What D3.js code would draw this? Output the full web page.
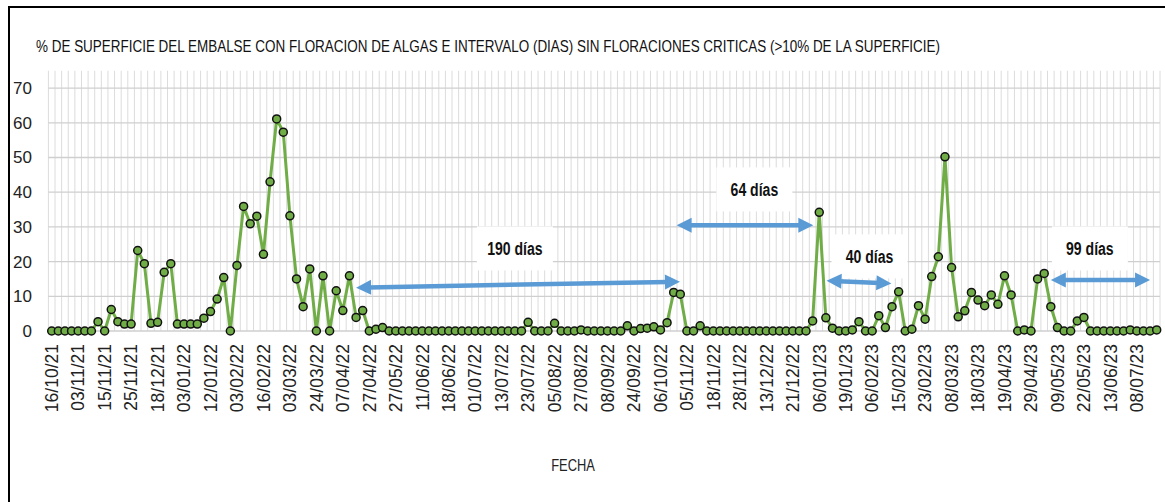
<!DOCTYPE html>
<html>
<head>
<meta charset="utf-8">
<script src="https://cdn.jsdelivr.net/npm/d3@7"></script>
<style>
  body { margin: 0; background: #fff; }
  svg { display: block; }
</style>
</head>
<body>
<div id="chart"></div>
<script>
// % de superficie con floracion, one value per sampling date (category)
var values = [
  0, 0, 0, 0, 0, 0, 0, 2.7, 0, 6.2,
  2.7, 2, 2, 23.2, 19.4, 2.2, 2.5, 16.9, 19.4, 2,
  2, 2, 2, 3.7, 5.6, 9.2, 15.4, 0, 18.9, 35.9,
  30.9, 33.1, 22.1, 43, 61.1, 57.3, 33.2, 15, 7, 17.9,
  0, 15.9, 0, 11.6, 5.9, 15.9, 3.9, 5.9, 0, 0.5,
  1, 0, 0, 0, 0, 0, 0, 0, 0, 0,
  0, 0, 0, 0, 0, 0, 0, 0, 0, 0,
  0, 0, 2.5, 0, 0, 0, 2.2, 0, 0, 0,
  0.3, 0, 0, 0, 0, 0, 0, 1.5, 0, 0.7,
  0.8, 1.2, 0.3, 2.4, 11.1, 10.6, 0, 0, 1.5, 0,
  0, 0, 0, 0, 0, 0, 0, 0, 0, 0,
  0, 0, 0, 0, 0, 2.9, 34.2, 3.8, 0.8, 0,
  0, 0.3, 2.7, 0, 0, 4.4, 1, 7, 11.3, 0,
  0.5, 7.3, 3.4, 15.7, 21.4, 50.2, 18.3, 4.1, 5.8, 11.1,
  8.9, 7.3, 10.4, 7.7, 15.9, 10.4, 0, 0.3, 0, 15,
  16.6, 7, 1, 0, 0, 2.9, 3.9, 0, 0, 0,
  0, 0, 0, 0.3, 0, 0, 0, 0.3
];

// one date label every 4 categories
var tickLabels = [
  "16/10/21", "03/11/21", "15/11/21", "25/11/21", "18/12/21", "03/01/22", "12/01/22",
  "03/02/22", "16/02/22", "03/03/22", "24/03/22", "07/04/22", "27/04/22", "27/05/22",
  "11/06/22", "18/06/22", "01/07/22", "13/07/22", "23/07/22", "05/08/22", "27/08/22",
  "08/09/22", "24/09/22", "06/10/22", "05/11/22", "18/11/22", "28/11/22", "13/12/22",
  "21/12/22", "06/01/23", "19/01/23", "06/02/23", "15/02/23", "23/02/23", "08/03/23",
  "18/03/23", "19/04/23", "29/04/23", "09/05/23", "22/05/23", "13/06/23", "08/07/23"
];
var tickEvery = 4;

var yTicks = [0, 10, 20, 30, 40, 50, 60, 70];

// interval annotations, in data units (category index, %)
var arrowLabels = ["190 días", "64 días", "40 días", "99 días"];
var arrowFrom = [[46.0, 12.5], [94.45, 30.5], [117.1, 14.5], [151.0, 14.7]];
var arrowTo = [[94.95, 14.2], [115.1, 30.5], [126.9, 13.7], [166.0, 14.7]];
var labelAt = [[70.0, 23.8], [106.2, 40.8], [123.6, 21.5], [156.9, 23.8]];

var width = 1165, height = 502;
var sans = "'Liberation Sans', Arial, sans-serif";

var svg = d3.select("#chart").append("svg")
    .attr("width", width)
    .attr("height", height);

// squeeze a text horizontally to imitate a condensed face
function condense(sel, k) {
  sel.each(function() {
    var w = this.getComputedTextLength();
    d3.select(this)
      .attr("textLength", w * k)
      .attr("lengthAdjust", "spacingAndGlyphs");
  });
}

// outer frame
svg.append("rect")
    .attr("x", 9).attr("y", 7)
    .attr("width", 1170).attr("height", 520)
    .attr("fill", "#fff")
    .attr("stroke", "#000")
    .attr("stroke-width", 2);

var x = d3.scaleBand()
    .domain(d3.range(values.length))
    .range([48.4, 1160]);
var y = d3.scaleLinear()
    .domain([0, 75])
    .range([331, 331 - 75 * 3.47]);

function cx(i) { return x(i) + x.bandwidth() / 2; }
// fractional index -> pixel
function fx(i) { return x(0) + x.bandwidth() * (i + 0.5); }

// gridlines
var grid = svg.append("g");
grid.selectAll("line.v")
    .data(d3.range(values.length + 1))
    .enter().append("line")
    .attr("x1", function(i) { return x(0) + i * x.bandwidth(); })
    .attr("x2", function(i) { return x(0) + i * x.bandwidth(); })
    .attr("y1", y(75))
    .attr("y2", y(0))
    .attr("stroke", "#dcdcdc")
    .attr("stroke-width", 1);
grid.selectAll("line.h")
    .data(yTicks)
    .enter().append("line")
    .attr("x1", x(0))
    .attr("x2", x(0) + x.bandwidth() * values.length)
    .attr("y1", function(d) { return y(d); })
    .attr("y2", function(d) { return y(d); })
    .attr("stroke", "#cfcfcf")
    .attr("stroke-width", 1.3);

// y axis labels
var yAxis = d3.axisLeft(y).tickValues(yTicks).tickSize(0).tickPadding(0);
svg.append("g")
    .attr("transform", "translate(32,0)")
    .call(yAxis)
    .call(function(g) { g.select(".domain").remove(); })
    .selectAll("text")
    .attr("font-family", sans)
    .attr("font-size", 17)
    .attr("fill", "#222");

// title
svg.append("text")
    .attr("x", 36).attr("y", 52)
    .attr("font-family", sans)
    .attr("font-size", 16.5)
    .attr("fill", "#111")
    .attr("textLength", 904)
    .attr("lengthAdjust", "spacingAndGlyphs")
    .text("% DE SUPERFICIE DEL EMBALSE CON FLORACION DE ALGAS E INTERVALO (DIAS) SIN FLORACIONES CRITICAS (>10% DE LA SUPERFICIE)");

// annotation boxes and labels (drawn under the series)
var ann = svg.append("g");
ann.selectAll("rect")
    .data(labelAt)
    .enter().append("rect")
    .attr("x", function(d) { return fx(d[0]) - 38; })
    .attr("y", function(d) { return y(d[1]) - 22; })
    .attr("width", 76)
    .attr("height", 44)
    .attr("fill", "#fff");
ann.selectAll("text")
    .data(labelAt)
    .enter().append("text")
    .attr("x", function(d) { return fx(d[0]); })
    .attr("y", function(d) { return y(d[1]); })
    .attr("dy", "0.35em")
    .attr("text-anchor", "middle")
    .attr("font-family", sans)
    .attr("font-weight", "bold")
    .attr("font-size", 18)
    .attr("fill", "#111")
    .text(function(d, i) { return arrowLabels[i]; })
    .call(condense, 0.78);

// double headed arrows
var arrowColor = "#5B9BD5";
var headLen = 15, headHalf = 7.5;
arrowFrom.forEach(function(a, k) {
  var x1 = fx(a[0]), y1 = y(a[1]);
  var x2 = fx(arrowTo[k][0]), y2 = y(arrowTo[k][1]);
  var dx = x2 - x1, dy = y2 - y1, len = Math.sqrt(dx * dx + dy * dy);
  var ux = dx / len, uy = dy / len, nx = -uy, ny = ux;
  svg.append("line")
      .attr("x1", x1 + ux * headLen * 0.8).attr("y1", y1 + uy * headLen * 0.8)
      .attr("x2", x2 - ux * headLen * 0.8).attr("y2", y2 - uy * headLen * 0.8)
      .attr("stroke", arrowColor)
      .attr("stroke-width", 4.5);
  [[x1, y1, 1], [x2, y2, -1]].forEach(function(p) {
    var bx = p[0] + ux * headLen * p[2], by = p[1] + uy * headLen * p[2];
    svg.append("polygon")
        .attr("points", [
          [p[0], p[1]],
          [bx + nx * headHalf, by + ny * headHalf],
          [bx - nx * headHalf, by - ny * headHalf]
        ].map(function(q) { return q.join(","); }).join(" "))
        .attr("fill", arrowColor);
  });
});

// series line
var line = d3.line()
    .x(function(d, i) { return cx(i); })
    .y(function(d) { return y(d); });
svg.append("path")
    .datum(values)
    .attr("d", line)
    .attr("fill", "none")
    .attr("stroke", "#70AD47")
    .attr("stroke-width", 3)
    .attr("stroke-linejoin", "round");

svg.append("g").selectAll("circle")
    .data(values)
    .enter().append("circle")
    .attr("cx", function(d, i) { return cx(i); })
    .attr("cy", function(d) { return y(d); })
    .attr("r", 4)
    .attr("fill", "#70AD47")
    .attr("stroke", "#111")
    .attr("stroke-width", 1.5);

// x labels, rotated
svg.append("g").selectAll("text")
    .data(tickLabels)
    .enter().append("text")
    .attr("transform", function(d, k) {
      return "translate(" + cx(k * tickEvery) + ",344) rotate(-90)";
    })
    .attr("dy", "0.36em")
    .attr("text-anchor", "end")
    .attr("font-family", sans)
    .attr("font-size", 17.5)
    .attr("fill", "#222")
    .text(function(d) { return d; });

// x axis title
svg.append("text")
    .attr("x", 573).attr("y", 471)
    .attr("text-anchor", "middle")
    .attr("font-family", sans)
    .attr("font-size", 16.5)
    .attr("fill", "#222")
    .text("FECHA")
    .call(condense, 0.78);
</script>
</body>
</html>
